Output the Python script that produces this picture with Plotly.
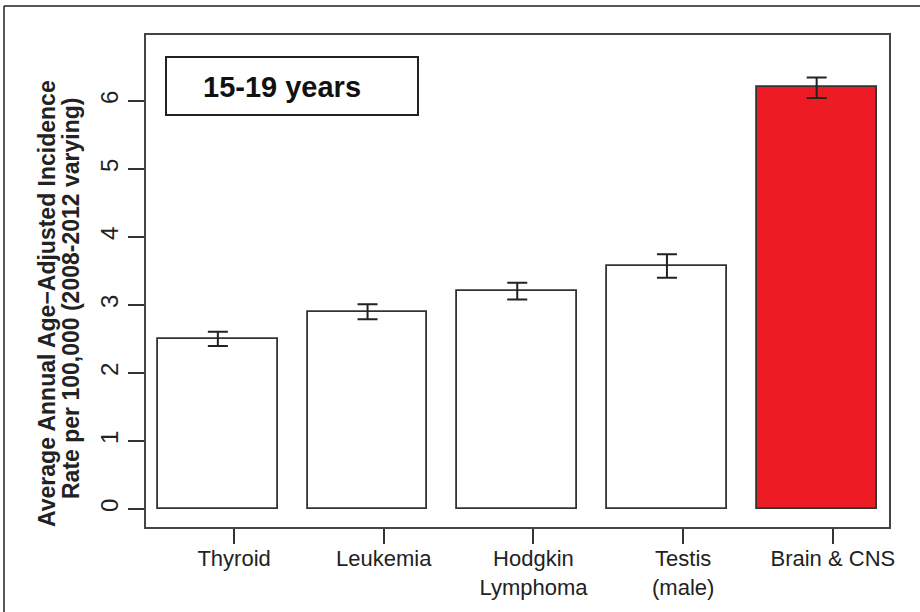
import plotly.graph_objects as go

categories = ["Thyroid", "Leukemia", "Hodgkin<br>Lymphoma", "Testis<br>(male)", "Brain & CNS"]
rates = [2.50, 2.90, 3.20, 3.575, 6.20]
err_plus = [0.105, 0.11, 0.125, 0.17, 0.145]
err_minus = [0.105, 0.11, 0.12, 0.175, 0.155]
bar_colors = ["#ffffff", "#ffffff", "#ffffff", "#ffffff", "#ED1C24"]
y_ticks = [0, 1, 2, 3, 4, 5, 6]
panel_label = "15-19 years"

FONT = "Liberation Sans, Arial, Helvetica, sans-serif"
W, H = 920, 612
L, R, T, B = 146, 889, 35, 527  # plot area in px

bar_x = [0.7 + 1.2 * i for i in range(len(categories))]
tick_x = [x + 0.13 for x in bar_x]

def px_x(p):
    return (p - L) / (R - L)

def px_y(p):
    return (B - p) / (B - T)

fig = go.Figure()
fig.add_trace(go.Bar(
    x=bar_x, y=rates, width=0.96,
    marker=dict(color=bar_colors, line=dict(color="#333333", width=1.8)),
    error_y=dict(type="data", symmetric=False, array=err_plus, arrayminus=err_minus,
                 color="#222222", thickness=2, width=10),
    showlegend=False, hoverinfo="y",
))

fig.update_layout(
    width=W, height=H, autosize=False,
    margin=dict(l=L, r=W - R, t=T, b=H - B, pad=0, autoexpand=False),
    paper_bgcolor="white", plot_bgcolor="white",
    font=dict(family=FONT, color="#222222", size=22),
    xaxis=dict(range=[0.124, 6.08], tickmode="array", tickvals=tick_x, ticktext=categories,
               automargin=False, ticklabelstandoff=-4,
               showgrid=False, zeroline=False, showline=True, mirror=True,
               linecolor="#444444", linewidth=2, ticks="outside", ticklen=15,
               tickwidth=1.5, tickcolor="#333333",
               tickfont=dict(size=22, family=FONT, color="#222222")),
    yaxis=dict(range=[-0.265, 6.97], tickmode="array", tickvals=y_ticks,
               ticktext=[str(v) for v in y_ticks], tickangle=-90, automargin=False,
               showgrid=False, zeroline=False, showline=True, mirror=True,
               linecolor="#444444", linewidth=2, ticks="outside", ticklen=16,
               tickwidth=1.5, tickcolor="#333333",
               tickfont=dict(size=24, family=FONT, color="#222222")),
    bargap=0,
)

# y-axis title (two lines, separate rotated annotations)
fig.add_annotation(text="<b>Average Annual Age\u2212Adjusted Incidence</b>",
                   x=px_x(47), y=px_y(304), xref="paper", yref="paper",
                   textangle=-90, showarrow=False, xanchor="center", yanchor="middle",
                   font=dict(size=23, family=FONT, color="#222222"))
fig.add_annotation(text="<b>Rate per 100,000 (2008-2012 varying)</b>",
                   x=px_x(71), y=px_y(299), xref="paper", yref="paper",
                   textangle=-90, showarrow=False, xanchor="center", yanchor="middle",
                   font=dict(size=23, family=FONT, color="#222222"))

# panel label box
fig.add_shape(type="rect", xref="paper", yref="paper",
              x0=px_x(166), x1=px_x(418), y0=px_y(115), y1=px_y(57),
              line=dict(color="#222222", width=2), fillcolor="white")
fig.add_annotation(text="<b>" + panel_label + "</b>", x=px_x(282), y=px_y(87),
                   xref="paper", yref="paper", showarrow=False,
                   xanchor="center", yanchor="middle",
                   font=dict(size=29, family=FONT, color="#111111"))

# outer frame lines (left and top)
fig.add_shape(type="line", xref="paper", yref="paper",
              x0=px_x(4), x1=px_x(4), y0=px_y(6), y1=px_y(612),
              line=dict(color="#222222", width=1.5))
fig.add_shape(type="line", xref="paper", yref="paper",
              x0=px_x(4), x1=px_x(920), y0=px_y(6), y1=px_y(6),
              line=dict(color="#222222", width=1.5))

fig.write_html("out.html", config={"displayModeBar": False},
               post_script="document.body.style.margin='0';document.body.style.overflow='hidden';")
